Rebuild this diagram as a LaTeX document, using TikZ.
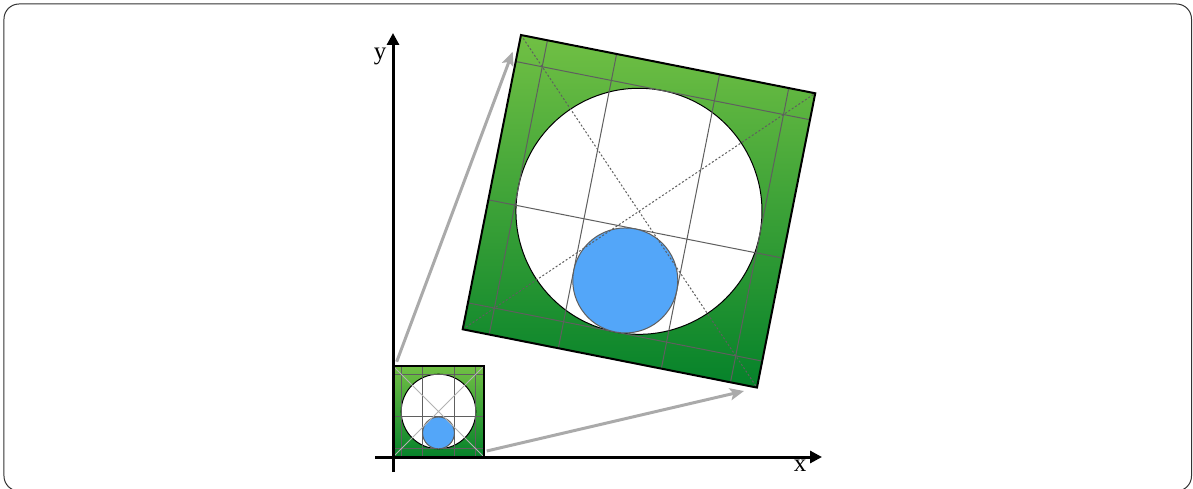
\documentclass[tikz,border=0pt]{standalone}
\usepackage{fontspec}
\setmainfont{Liberation Serif}
\usepackage{tikz}
\usetikzlibrary{arrows.meta}
\definecolor{mLeafTop}{HTML}{71C044}
\definecolor{mLeafBot}{HTML}{05822A}
\definecolor{mSky}{HTML}{53A6F9}
\definecolor{mGrid}{HTML}{5F5F5F}
\definecolor{mArrow}{HTML}{AAAAAA}

% one plate in the unit square
\newcommand{\plate}{%
  \shade[top color=mLeafTop, bottom color=mLeafBot] (0,0) rectangle (1,1);
  \draw[black, line width=0.5pt, fill=white] (0.5,0.5) circle[radius=0.41];
  \foreach \u in {0.09,0.325,0.675,0.91}
    \draw[grid line] (\u,0) -- (\u,1);
  \foreach \v in {0.09,0.44,0.91}
    \draw[grid line] (0,\v) -- (1,\v);
  \draw[mGrid, line width=0.5pt, fill=mSky] (0.5,0.265) circle[radius=0.175];
  \draw[plate diag] (0,0) -- (1,1) (0,1) -- (1,0);
  \draw[plate rim] (0,0) rectangle (1,1);
}

\begin{document}
\begin{tikzpicture}[x=0.5pt, y=0.5pt, font=\fontsize{12.5}{14}\selectfont,
    grid line/.style={mGrid, line width=0.5pt},
    plate rim/.style={black, line width=0.7pt},
    plate diag/.style={gray!60, line width=0.5pt},
    axis/.style={line width=1.5pt, -{Triangle[length=6pt,width=6pt]}},
    zoom arrow/.style={mArrow, line width=1.5pt, -{Stealth[length=7pt,width=6pt,inset=1.5pt]}}]
    \useasboundingbox (-393,-31) rectangle (800,457);
    \draw[black!80, line width=0.5pt, rounded corners=7.5pt] (-389,453) rectangle (798.5,-34);

    \begin{scope}[scale=91]
        \plate
    \end{scope}
    \begin{scope}[shift={(69.7,127.7)}, rotate=-11.2, scale=300,
        plate rim/.style={black, line width=1pt},
        plate diag/.style={mGrid, line width=0.5pt, dash pattern=on 1pt off 1pt}]
        \plate
    \end{scope}

    \coordinate (s1) at (3.7,95.3);
    \coordinate (t1) at (119.7,405.3);
    \coordinate (s2) at (93.7,6);
    \coordinate (t2) at (351,66);
    \draw[zoom arrow] (s1) -- (t1);
    \draw[zoom arrow] (s2) -- (t2);

    \coordinate (ox) at (-18,0);
    \coordinate (ex) at (429,0);
    \coordinate (oy) at (0,-15);
    \coordinate (ey) at (0,424);
    \draw[axis] (ox) -- (ex);
    \draw[axis] (oy) -- (ey);
    \node (lx) at (407,-9) {x};
    \node (ly) at (-13,401) {y};
\end{tikzpicture}
\end{document}
